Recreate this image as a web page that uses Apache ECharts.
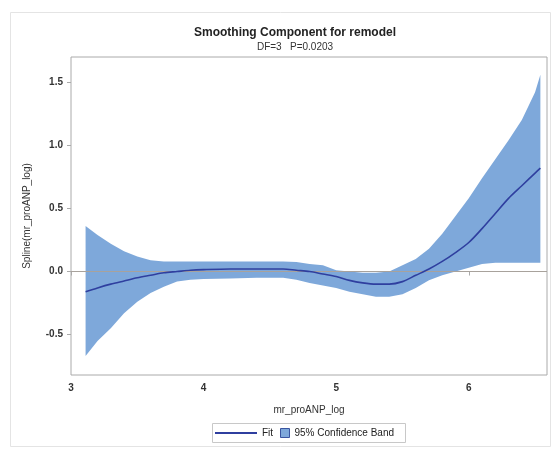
<!DOCTYPE html>
<html><head><meta charset="utf-8">
<script src="https://cdn.jsdelivr.net/npm/echarts@6/dist/echarts.min.js"></script>
<style>html,body{margin:0;padding:0;background:#fff}#c{width:556px;height:453px}</style>
</head><body><div id="c"></div>
<script>
const xVals = [3.11,3.2,3.3,3.4,3.5,3.6,3.7,3.8,3.9,4.0,4.2,4.4,4.6,4.7,4.8,4.9,5.0,5.1,5.2,5.3,5.4,5.5,5.6,5.7,5.8,5.9,6.0,6.1,6.2,6.3,6.4,6.5,6.54];
const fitVals = [-0.16,-0.13,-0.10,-0.075,-0.05,-0.03,-0.01,0.0,0.01,0.015,0.02,0.02,0.02,0.01,0.0,-0.02,-0.04,-0.07,-0.09,-0.10,-0.10,-0.08,-0.03,0.02,0.08,0.15,0.23,0.34,0.46,0.58,0.68,0.78,0.82];
const upperVals = [0.36,0.29,0.22,0.16,0.12,0.09,0.08,0.08,0.08,0.08,0.08,0.08,0.08,0.075,0.06,0.05,0.01,0.0,-0.01,-0.01,0.0,0.05,0.10,0.18,0.30,0.44,0.58,0.74,0.89,1.04,1.20,1.42,1.56];
const lowerVals = [-0.67,-0.55,-0.45,-0.33,-0.24,-0.17,-0.12,-0.08,-0.065,-0.06,-0.055,-0.05,-0.05,-0.065,-0.09,-0.11,-0.13,-0.16,-0.18,-0.20,-0.20,-0.18,-0.13,-0.07,-0.03,0.0,0.03,0.06,0.07,0.07,0.07,0.07,0.07];
const xTicks = [3,4,5,6];
const yTicks = [-0.5,0,0.5,1.0,1.5];

const FONT = '"Liberation Sans", Arial, sans-serif';
const chart = echarts.init(document.getElementById('c'), null, {renderer:'canvas'});
chart.setOption({
  animation:false,
  backgroundColor:'#fff',
  title:[
    {text:'Smoothing Component for remodel', left:290, top:22, textAlign:'center',
     textStyle:{fontFamily:FONT, fontSize:12, fontWeight:'bold', color:'#222'}},
    {text:'DF=3   P=0.0203', left:290, top:37, textAlign:'center',
     textStyle:{fontFamily:FONT, fontSize:10, fontWeight:'normal', color:'#333'}}
  ],
  grid:{left:71, right:9, top:57, bottom:78, show:true, borderColor:'#aaa', borderWidth:1, backgroundColor:'transparent'},
  xAxis:{type:'value', min:3, max:6.59, name:'mr_proANP_log', nameLocation:'middle', nameGap:30,
    nameTextStyle:{fontFamily:FONT, fontSize:10, color:'#333'},
    axisLine:{show:false}, splitLine:{show:false},
    axisTick:{show:true, customValues:xTicks, length:4, lineStyle:{color:'#aaa'}},
    axisLabel:{customValues:xTicks, fontFamily:FONT, fontSize:10, fontWeight:'bold', color:'#333', margin:8}},
  yAxis:{type:'value', min:-0.82, max:1.70, name:'Spline(mr_proANP_log)', nameLocation:'middle', nameGap:39,
    nameTextStyle:{fontFamily:FONT, fontSize:10, color:'#333'},
    axisLine:{show:false}, splitLine:{show:false},
    axisTick:{show:true, customValues:yTicks, length:4, lineStyle:{color:'#aaa'}},
    axisLabel:{customValues:yTicks, fontFamily:FONT, fontSize:10, fontWeight:'bold', color:'#333', margin:8,
      formatter:v=>v.toFixed(1)}},
  legend:[
    {data:[{name:'Fit', icon:'rect'}], left:215, top:428, itemWidth:42, itemHeight:2, itemGap:4,
     textStyle:{fontFamily:FONT, fontSize:10, color:'#222'}, padding:0},
    {data:[{name:'95% Confidence Band', icon:'rect'}], left:280, top:428, itemWidth:9, itemHeight:9,
     itemStyle:{borderColor:'#3a55a0', borderWidth:1},
     textStyle:{fontFamily:FONT, fontSize:10, color:'#222'}, padding:0}
  ],
  graphic:[
    {type:'rect', shape:{x:10.5, y:12.5, width:540, height:434}, style:{fill:'none', stroke:'#e4e4e4', lineWidth:1}, silent:true},
    {type:'rect', shape:{x:212.5, y:423.5, width:193, height:19}, style:{fill:'none', stroke:'#c8c8c8', lineWidth:1}, silent:true}
  ],
  series:[
    {name:'95% Confidence Band', type:'custom', data:[[xVals[0], 0]], itemStyle:{color:'#7ea8da'},
     renderItem:function(params, api){
       const pts=[];
       for(let i=0;i<xVals.length;i++) pts.push(api.coord([xVals[i], upperVals[i]]));
       for(let i=xVals.length-1;i>=0;i--) pts.push(api.coord([xVals[i], lowerVals[i]]));
       return {type:'polygon', shape:{points:pts}, style:{fill:'#7ea8da', stroke:'none'}};
     }, z:1},
    {name:'Fit', type:'line', data:xVals.map((x,i)=>[x, fitVals[i]]), smooth:0.3, symbol:'none',
     lineStyle:{color:'#2f3f9f', width:1.6}, itemStyle:{color:'#2f3f9f'}, z:3,
     markLine:{silent:true, symbol:'none', label:{show:false}, lineStyle:{color:'#a8a29c', width:1, type:'solid'},
       data:[{yAxis:0}], z:2}}
  ]
});
</script></body></html>
